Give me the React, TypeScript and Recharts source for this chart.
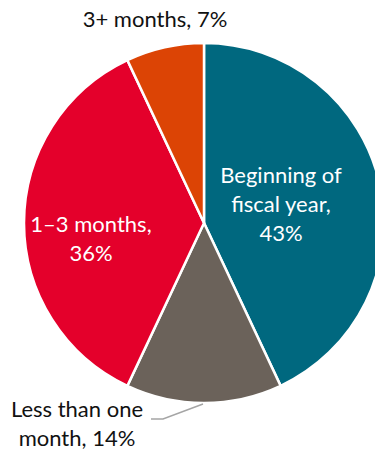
import { PieChart, Pie, Cell } from "recharts";

const categories = ["Beginning of fiscal year", "Less than one month", "1–3 months", "3+ months"];
const shares = [43, 14, 36, 7];
const labelLines = [
  ["Beginning of", "fiscal year,", "43%"],
  ["Less than one", "month, 14%"],
  ["1–3 months,", "36%"],
  ["3+ months, 7%"],
];

const COLORS = ["#00687F", "#6B625A", "#E4002B", "#DC4405"];
const LABEL_FILL = ["#fff", "#111", "#fff", "#111"];
// label text centre relative to pie centre, and baseline of first line
const LABEL_POS = [
  { dx: 77, dy: -40 },
  { dx: -127, dy: 194 },
  { dx: -113, dy: 9 },
  { dx: -49, dy: -196 },
];

const data = categories.map((name, i) => ({ name, value: shares[i] }));

const renderLabel = (props: any) => {
  const { cx, cy, index, outerRadius } = props;
  const pos = LABEL_POS[index];
  const lines = labelLines[index];
  const x = cx + pos.dx;
  const y = cy + pos.dy;
  return (
    <g>
      {index === 1 && (
        <polyline
          points={`${x + 74},${y + 2} ${x + 86},${y + 2} ${cx - 1},${cy + outerRadius + 1}`}
          fill="none"
          stroke="#A5A5A5"
          strokeWidth={1.5}
        />
      )}
      <text
        x={x}
        y={y}
        textAnchor="middle"
        fill={LABEL_FILL[index]}
        fontSize={22}
        fontFamily="Lato, sans-serif"
      >
        {lines.map((l, j) => (
          <tspan key={j} x={x} dy={j === 0 ? 0 : 29}>
            {l}
          </tspan>
        ))}
      </text>
    </g>
  );
};

export default function App() {
  return (
    <div style={{ position: "absolute", left: 0, top: 0, background: "#fff" }}>
      <PieChart width={375} height={454} margin={{ top: 0, right: 0, bottom: 0, left: 0 }}>
        <Pie
          data={data}
          dataKey="value"
          cx={204}
          cy={223}
          outerRadius={180}
          startAngle={90}
          endAngle={-270}
          stroke="#fff"
          strokeWidth={2.5}
          label={renderLabel}
          labelLine={false}
          isAnimationActive={false}
        >
          {data.map((d, i) => (
            <Cell key={d.name} fill={COLORS[i]} />
          ))}
        </Pie>
      </PieChart>
    </div>
  );
}
